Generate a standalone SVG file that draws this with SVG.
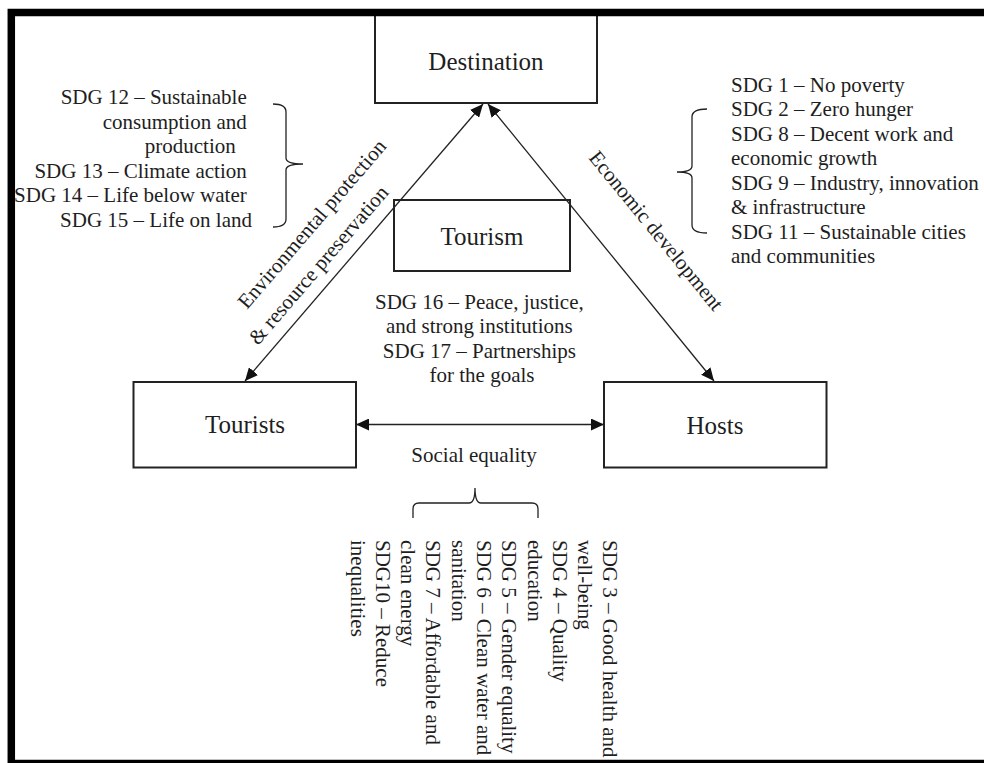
<svg xmlns="http://www.w3.org/2000/svg" width="984" height="763" viewBox="0 0 984 763">
<style>
text{font-family:"Liberation Serif","Times New Roman",serif;fill:#1e1e1e}
.lbl{font-size:21px}
.box{fill:none;stroke:#222;stroke-width:2}
.box text{font-size:25px;text-anchor:middle}
.con{stroke:#222;stroke-width:1.3;fill:none}
.brace{stroke:#222;stroke-width:1.3;fill:none}
</style>
<defs>
<marker id="ah" viewBox="0 0 13 12" refX="13" refY="6" markerWidth="13" markerHeight="12" markerUnits="userSpaceOnUse" orient="auto-start-reverse">
<path d="M0,0 L13,6 L0,12 z" fill="#111"/>
</marker>
</defs>
<rect width="984" height="763" fill="#fff"/>

<g id="connectors">
<line class="con" x1="245" y1="381" x2="483" y2="104" marker-start="url(#ah)" marker-end="url(#ah)"/>
<line class="con" x1="488" y1="104" x2="714" y2="381" marker-start="url(#ah)" marker-end="url(#ah)"/>
<line class="con" x1="356" y1="424.5" x2="604" y2="424.5" marker-start="url(#ah)" marker-end="url(#ah)"/>
<text class="lbl" transform="translate(247,310) rotate(-49.3)">Environmental protection</text>
<text class="lbl" transform="translate(258,346) rotate(-49.3)">&amp; resource preservation</text>
<text class="lbl" transform="translate(588,158) rotate(50.8)">Economic development</text>
<text class="lbl" x="474" y="462" text-anchor="middle">Social equality</text>
</g>

<g id="destination">
<rect class="box" x="375" y="14" width="222" height="89"/>
<text x="486" y="70" style="font-size:25px;text-anchor:middle">Destination</text>
</g>
<g id="tourism">
<rect class="box" x="394" y="200" width="176" height="71"/>
<text x="482" y="245" style="font-size:25px;text-anchor:middle">Tourism</text>
</g>
<g id="tourists">
<rect class="box" x="133.5" y="382" width="222.5" height="85.5"/>
<text x="245" y="433" style="font-size:25px;text-anchor:middle">Tourists</text>
</g>
<g id="hosts">
<rect class="box" x="604" y="382" width="222.5" height="85.5"/>
<text x="715" y="434" style="font-size:25px;text-anchor:middle">Hosts</text>
</g>

<g id="env-sdgs">
<text class="lbl" text-anchor="end">
<tspan x="252" y="104">SDG 12 – Sustainable</tspan>
<tspan x="252" y="128.5">consumption and</tspan>
<tspan x="241" y="153">production</tspan>
<tspan x="252" y="177.5">SDG 13 – Climate action</tspan>
<tspan x="252" y="202">SDG 14 – Life below water</tspan>
<tspan x="252" y="226.5">SDG 15 – Life on land</tspan>
</text>
<path class="brace" d="M273,104 Q286,104 286,112 L286,158 Q286,164 303,164 Q286,164 286,170 L286,219 Q286,227 273,227"/>
</g>

<g id="eco-sdgs">
<text class="lbl">
<tspan x="731" y="91.5">SDG 1 – No poverty</tspan>
<tspan x="731" y="116">SDG 2 – Zero hunger</tspan>
<tspan x="731" y="140.5">SDG 8 – Decent work and</tspan>
<tspan x="731" y="165">economic growth</tspan>
<tspan x="731" y="189.5">SDG 9 – Industry, innovation</tspan>
<tspan x="731" y="214">&amp; infrastructure</tspan>
<tspan x="731" y="238.5">SDG 11 – Sustainable cities</tspan>
<tspan x="731" y="263">and communities</tspan>
</text>
<path class="brace" d="M707,109 Q692,109 692,117 L692,166 Q692,172 677,172 Q692,172 692,178 L692,225 Q692,233 707,233"/>
</g>

<g id="tourism-sdgs">
<text class="lbl" text-anchor="middle">
<tspan x="482" y="309">SDG 16 – Peace, justice,</tspan>
<tspan x="482" y="333.3">and strong institutions</tspan>
<tspan x="482" y="357.6">SDG 17 – Partnerships</tspan>
<tspan x="482" y="382">for the goals</tspan>
</text>
</g>

<g id="social-sdgs">
<path class="brace" d="M413,518 L413,509 Q413,503 419,503 L469,503 Q475,503 475,488 Q475,503 481,503 L532,503 Q538,503 538,509 L538,518"/>
<text class="lbl" transform="translate(603.3,540) rotate(90)">
<tspan x="0" y="0">SDG 3 – Good health and</tspan>
<tspan x="0" dy="25.26">well-being</tspan>
<tspan x="0" dy="25.26">SDG 4 – Quality</tspan>
<tspan x="0" dy="25.26">education</tspan>
<tspan x="0" dy="25.26">SDG 5 – Gender equality</tspan>
<tspan x="0" dy="25.26">SDG 6 – Clean water and</tspan>
<tspan x="0" dy="25.26">sanitation</tspan>
<tspan x="0" dy="25.26">SDG 7 – Affordable and</tspan>
<tspan x="0" dy="25.26">clean energy</tspan>
<tspan x="0" dy="25.26">SDG10 – Reduce</tspan>
<tspan x="0" dy="25.26">inequalities</tspan>
</text>
</g>

<g id="frame">
<rect x="11.3" y="12.5" width="1000" height="751" fill="none" stroke="#000" stroke-width="7.5"/>
</g>
</svg>
